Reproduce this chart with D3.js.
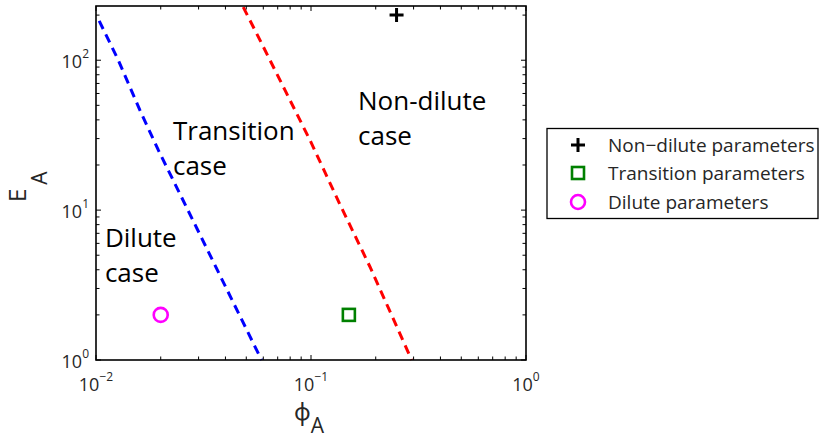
<!DOCTYPE html>
<html>
<head>
<meta charset="utf-8">
<script src="https://cdn.jsdelivr.net/npm/d3@7"></script>
<style>
  html, body { margin: 0; padding: 0; background: #fff; }
  svg { display: block; }
  text { font-family: "Open Sans", "Noto Sans", sans-serif; fill: #1a1a1a; }
</style>
</head>
<body>
<svg id="chart" width="820" height="438"></svg>
<script>
// Regime boundaries in the (phi_A, E_A) plane
const dilutePhi  = [0.01035, 0.0127, 0.0160, 0.0195, 0.0242, 0.0294, 0.0579, 0.0590];
const diluteE    = [183, 100, 46.4, 25.1, 13.4, 7.6, 1.05, 1.0];
const nonDilPhi  = [0.0484, 0.0590, 0.0757, 0.0989, 0.136, 0.188, 0.294];
const nonDilE    = [226, 129, 63.1, 29.3, 11.0, 4.19, 1.0];

// Parameter sets
const markerNames = ["Non\u2212dilute parameters", "Transition parameters", "Dilute parameters"];
const markerPhi   = [0.25, 0.15, 0.02];
const markerE     = [200, 2, 2];
const markerShape = ["plus", "square", "circle"];
const markerColor = ["#000000", "#008000", "#ff00ff"];

// Region annotations (anchor = first-line baseline start)
const regionLines = [["Transition", "case"], ["Non-dilute", "case"], ["Dilute", "case"]];
const regionPhi   = [0.0228, 0.1655, 0.0110];
const regionE     = [29.3, 46.4, 5.67];

// Axis ticks
const xMajor = [0.01, 0.1, 1];
const xMajorExp = ["\u22122", "\u22121", "0"];
const yMajor = [1, 10, 100];
const yMajorExp = ["0", "1", "2"];

const svg = d3.select("#chart");
const L = 96, R = 526, T = 6, B = 360;

const x = d3.scaleLog().domain([0.01, 1]).range([L, R]);
const y = d3.scaleLog().domain([1, 230]).range([B, T]);

function minorTicks(lo, hi) {
  const out = [];
  for (let d = lo; d < hi * 1.0001; d *= 10)
    for (let k = 1; k <= 9; k++) { const v = d * k; if (v <= hi * 1.0001) out.push(v); }
  return out;
}
const xTicks = minorTicks(0.01, 1);
const yTicks = minorTicks(1, 230).filter(v => v <= 230);
const isMajor = v => Math.abs(Math.log10(v) - Math.round(Math.log10(v))) < 1e-6;

// Boundary lines
const line = d3.line().x(d => x(d[0])).y(d => y(d[1]));
svg.append("path")
  .datum(dilutePhi.map((p, i) => [p, diluteE[i]]))
  .attr("d", line).attr("fill", "none")
  .attr("stroke", "#0000ff").attr("stroke-width", 3).attr("stroke-dasharray", "9,6");
svg.append("path")
  .datum(nonDilPhi.map((p, i) => [p, nonDilE[i]]))
  .attr("d", line).attr("fill", "none")
  .attr("stroke", "#ff0000").attr("stroke-width", 3).attr("stroke-dasharray", "9,6");

// Markers
function drawMarker(g, shape, color, cx, cy) {
  if (shape === "plus") {
    g.append("path").attr("d", `M${cx - 7},${cy}H${cx + 7}M${cx},${cy - 7}V${cy + 7}`)
      .attr("stroke", color).attr("stroke-width", 3).attr("fill", "none");
  } else if (shape === "square") {
    g.append("rect").attr("x", cx - 6).attr("y", cy - 6).attr("width", 12).attr("height", 12)
      .attr("stroke", color).attr("stroke-width", 2.6).attr("fill", "none");
  } else {
    g.append("circle").attr("cx", cx).attr("cy", cy).attr("r", 7)
      .attr("stroke", color).attr("stroke-width", 2.6).attr("fill", "none");
  }
}
const mg = svg.append("g");
markerPhi.forEach((p, i) => drawMarker(mg, markerShape[i], markerColor[i], x(p), y(markerE[i])));

// Region labels
regionLines.forEach((lines, i) => {
  const t = svg.append("text").attr("x", x(regionPhi[i])).attr("y", y(regionE[i]))
    .attr("font-size", 26).style("fill", "#000");
  lines.forEach((s, j) => t.append("tspan").attr("x", x(regionPhi[i])).attr("dy", j ? 35 : 0).text(s));
});

// Axes box with inward ticks on all four sides
const axes = svg.append("g").attr("stroke", "#000").attr("fill", "none");
axes.append("rect").attr("x", L).attr("y", T).attr("width", R - L).attr("height", B - T)
  .attr("stroke-width", 1.6);
xTicks.forEach(v => {
  const len = isMajor(v) ? 5 : 3.5, px = x(v);
  axes.append("line").attr("x1", px).attr("x2", px).attr("y1", B).attr("y2", B - len).attr("stroke-width", 1);
  axes.append("line").attr("x1", px).attr("x2", px).attr("y1", T).attr("y2", T + len).attr("stroke-width", 1);
});
yTicks.forEach(v => {
  const len = isMajor(v) ? 5 : 3.5, py = y(v);
  axes.append("line").attr("y1", py).attr("y2", py).attr("x1", L).attr("x2", L + len).attr("stroke-width", 1);
  axes.append("line").attr("y1", py).attr("y2", py).attr("x1", R).attr("x2", R - len).attr("stroke-width", 1);
});

// Tick labels: 10 with superscript exponent
xMajor.forEach((v, i) => {
  const t = svg.append("text").attr("x", x(v)).attr("y", 391).attr("text-anchor", "middle")
    .attr("font-size", 18).style("fill", "#262626");
  t.append("tspan").text("10");
  t.append("tspan").attr("font-size", 12).attr("dy", -10).text(xMajorExp[i]);
});
yMajor.forEach((v, i) => {
  const t = svg.append("text").attr("x", 89).attr("y", y(v) + 8).attr("text-anchor", "end")
    .attr("font-size", 18).style("fill", "#262626");
  t.append("tspan").text("10");
  t.append("tspan").attr("font-size", 12).attr("dy", -10).text(yMajorExp[i]);
});

// Axis titles
const xl = svg.append("text").attr("x", 294).attr("y", 420).attr("font-size", 23).style("fill", "#262626");
xl.append("tspan").text("\u03D5");
xl.append("tspan").attr("dy", 13).attr("font-size", 21).text("A");

const yl = svg.append("text").attr("transform", "translate(26,202) rotate(-90)")
  .attr("font-size", 24).style("fill", "#262626");
yl.append("tspan").text("E");
yl.append("tspan").attr("dx", 4).attr("dy", 21).attr("font-size", 21).text("A");

// Legend
const lg = svg.append("g");
lg.append("rect").attr("x", 547).attr("y", 128.5).attr("width", 271).attr("height", 90)
  .attr("fill", "#fff").attr("stroke", "#000").attr("stroke-width", 1.3);
const legY = [145, 173, 202];
markerNames.forEach((name, i) => {
  drawMarker(lg, markerShape[i], markerColor[i], 578, legY[i]);
  lg.append("text").attr("x", 608).attr("y", legY[i] + 6.5).attr("font-size", 19)
    .style("fill", "#262626").text(name);
});
</script>
</body>
</html>
